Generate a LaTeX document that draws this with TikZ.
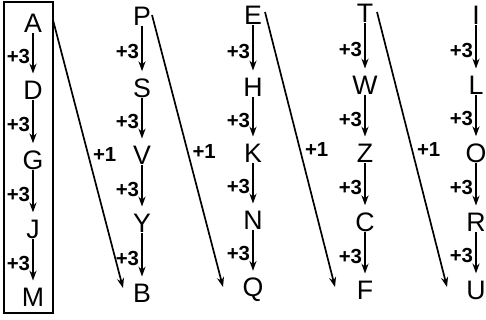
\documentclass[tikz,border=0pt]{standalone}
\usepackage{fontspec}
\setmainfont{Liberation Sans}
\usetikzlibrary{arrows.meta}

\begin{document}
\begin{tikzpicture}[
 x=0.025cm, y=-0.025cm,
 ltr/.style={inner sep=0pt, font=\fontsize{19}{22}\selectfont},
 lbl/.style={inner sep=1.5pt, font=\fontsize{14.5}{17}\selectfont\bfseries},
 arr/.style={-{Stealth[length=7pt,width=5pt]}, line width=1.2pt, shorten <=0.5pt, shorten >=5pt},
 darr/.style={-{Stealth[length=7pt,width=5pt]}, line width=1.2pt},
]
\useasboundingbox (0,0) rectangle (486,320);

% first column, boxed
\node[ltr] (A) at (33,23) {A};
\node[ltr] (D) at (33,90) {D};
\node[ltr] (G) at (33,160) {G};
\node[ltr] (J) at (33,229) {J};
\node[ltr] (M) at (33,297) {M};
\node[draw, line width=1.5pt, minimum width=1.225cm, minimum height=7.775cm, inner sep=0pt] (box) at (28.5,157.5) {};

\node[ltr] (P) at (142,16) {P};
\node[ltr] (S) at (142,88) {S};
\node[ltr] (V) at (142,155) {V};
\node[ltr] (Y) at (142,223) {Y};
\node[ltr] (B) at (142,293) {B};

\node[ltr] (E) at (253,15) {E};
\node[ltr] (H) at (253,87) {H};
\node[ltr] (K) at (253,153) {K};
\node[ltr] (N) at (253,220) {N};
\node[ltr] (Q) at (253,290) {Q};

\node[ltr] (T) at (365,13) {T};
\node[ltr] (W) at (365,85) {W};
\node[ltr] (Z) at (365,153) {Z};
\node[ltr] (C) at (365,222) {C};
\node[ltr] (F) at (365,290) {F};

\node[ltr] (I) at (476,15) {I};
\node[ltr] (L) at (476,85) {L};
\node[ltr] (O) at (476,153) {O};
\node[ltr] (R) at (476,222) {R};
\node[ltr] (U) at (476,290) {U};

% Vertical
\draw[arr] (A) -- node[lbl, left] {+3} (D);
\draw[arr] (D) -- node[lbl, left] {+3} (G);
\draw[arr] (G) -- node[lbl, left] {+3} (J);
\draw[arr] (J) -- node[lbl, left] {+3} (M);
\draw[arr] (P) -- node[lbl, left] {+3} (S);
\draw[arr] (S) -- node[lbl, left] {+3} (V);
\draw[arr] (V) -- node[lbl, left] {+3} (Y);
\draw[arr] (Y) -- node[lbl, left] {+3} (B);
\draw[arr] (E) -- node[lbl, left] {+3} (H);
\draw[arr] (H) -- node[lbl, left] {+3} (K);
\draw[arr] (K) -- node[lbl, left] {+3} (N);
\draw[arr] (N) -- node[lbl, left] {+3} (Q);
\draw[arr] (T) -- node[lbl, left] {+3} (W);
\draw[arr] (W) -- node[lbl, left] {+3} (Z);
\draw[arr] (Z) -- node[lbl, left] {+3} (C);
\draw[arr] (C) -- node[lbl, left] {+3} (F);
\draw[arr] (I) -- node[lbl, left] {+3} (L);
\draw[arr] (L) -- node[lbl, left] {+3} (O);
\draw[arr] (O) -- node[lbl, left] {+3} (R);
\draw[arr] (R) -- node[lbl, left] {+3} (U);

% Diagonal
\draw[darr] ([shift={(20,-3)}]A.center) -- node[lbl, right, inner sep=3pt] {+1} ([shift={(-19,-5)}]B.center);
\draw[darr] ([shift={(10,-1)}]P.center) -- node[lbl, right, inner sep=3pt] {+1} ([shift={(-30,-3)}]Q.center);
\draw[darr] ([shift={(12,-3)}]E.center) -- node[lbl, right, inner sep=3pt] {+1} ([shift={(-30,-3)}]F.center);
\draw[darr] ([shift={(12,-1)}]T.center) -- node[lbl, right, inner sep=3pt] {+1} ([shift={(-29,-3)}]U.center);

\end{tikzpicture}
\end{document}
